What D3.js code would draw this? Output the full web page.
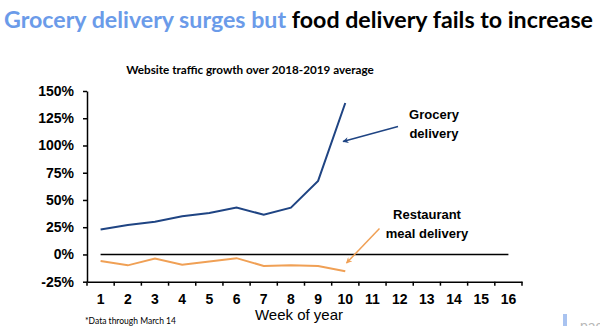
<!DOCTYPE html>
<html>
<head>
<meta charset="utf-8">
<script src="https://cdn.jsdelivr.net/npm/d3@7"></script>
<style>
  body { margin: 0; background: #fff; }
  svg { display: block; }
</style>
</head>
<body>
<div id="chart"></div>
<script>
// week numbers on the x axis
var weeks = [1, 2, 3, 4, 5, 6, 7, 8, 9, 10, 11, 12, 13, 14, 15, 16];
// traffic growth (%) over 2018-2019 average, data through week 10
var grocery = [23, 27, 30, 35, 38, 43, 36.5, 43, 67.5, 139];
var restaurant = [-6, -10, -3.7, -9.5, -6.4, -3.4, -10.5, -9.8, -10.5, -15.5];
var yTicks = [-25, 0, 25, 50, 75, 100, 125, 150];

var W = 600, H = 326;
var svg = d3.select("#chart").append("svg")
    .attr("width", W)
    .attr("height", H);

// title
var title = svg.append("text")
    .attr("x", 4)
    .attr("y", 28)
    .attr("textLength", 589)
    .attr("lengthAdjust", "spacingAndGlyphs")
    .style("font-family", "Lato, 'Open Sans', sans-serif")
    .style("font-weight", "bold")
    .style("font-size", "22px");
title.append("tspan").attr("fill", "#6b9be9").text("Grocery delivery surges but ");
title.append("tspan").attr("fill", "#000").text("food delivery fails to increase");

// subtitle
svg.append("text")
    .attr("x", 250)
    .attr("y", 74)
    .attr("text-anchor", "middle")
    .style("font-family", "Lato, sans-serif")
    .style("font-weight", "bold")
    .style("font-size", "11.7px")
    .text("Website traffic growth over 2018-2019 average");

// scales
var x = d3.scaleBand()
    .domain(weeks)
    .range([87, 522]);

var y = d3.scaleLinear()
    .domain([-25, 150])
    .range([281.7, 91]);

var labelFont = "'Liberation Sans', Arial, sans-serif";

// y axis
var yAxis = svg.append("g")
    .attr("transform", "translate(87,0)")
    .call(d3.axisLeft(y).tickValues(yTicks).tickSize(4).tickSizeOuter(0)
        .tickFormat(function (d) { return d + "%"; }));
yAxis.select(".domain").attr("stroke", "#000").attr("stroke-width", 1.5);
yAxis.selectAll(".tick line").attr("stroke", "#000").attr("stroke-width", 1.5);
yAxis.selectAll(".tick text")
    .attr("x", -13)
    .style("font-family", labelFont)
    .style("font-weight", "bold")
    .style("font-size", "14px")
    .attr("fill", "#000");

// x axis (ticks between weeks)
var xAxis = svg.append("g")
    .attr("transform", "translate(0," + y(-25) + ")")
    .call(d3.axisBottom(x).tickSize(0).tickSizeOuter(0));
xAxis.select(".domain").attr("stroke", "#000").attr("stroke-width", 1.5);
xAxis.selectAll(".tick text")
    .attr("y", 12)
    .style("font-family", labelFont)
    .style("font-weight", "bold")
    .style("font-size", "14px")
    .attr("fill", "#000");
xAxis.selectAll(".sep")
    .data(weeks.concat([17]))
    .enter().append("line")
    .attr("class", "sep")
    .attr("x1", function (d) { return d === 17 ? x(16) + x.bandwidth() : x(d); })
    .attr("x2", function (d) { return d === 17 ? x(16) + x.bandwidth() : x(d); })
    .attr("y1", 0)
    .attr("y2", 4)
    .attr("stroke", "#000")
    .attr("stroke-width", 1.5);

svg.append("text")
    .attr("x", 299)
    .attr("y", 320)
    .attr("text-anchor", "middle")
    .style("font-family", labelFont)
    .style("font-size", "15px")
    .text("Week of year");

// zero line
var cx = function (d, i) { return x(weeks[i]) + x.bandwidth() / 2; };
svg.append("line")
    .attr("x1", x(1) + x.bandwidth() / 2)
    .attr("x2", x(16) + x.bandwidth() / 2)
    .attr("y1", y(0))
    .attr("y2", y(0))
    .attr("stroke", "#000")
    .attr("stroke-width", 1.5);

var line = d3.line()
    .x(cx)
    .y(function (d) { return y(d); });

svg.append("path")
    .datum(grocery)
    .attr("d", line)
    .attr("fill", "none")
    .attr("stroke", "#1f4483")
    .attr("stroke-width", 2);

svg.append("path")
    .datum(restaurant)
    .attr("d", line)
    .attr("fill", "none")
    .attr("stroke", "#f0a055")
    .attr("stroke-width", 2);

// annotation arrows
var defs = svg.append("defs");
function marker(id, color) {
    defs.append("marker")
        .attr("id", id)
        .attr("viewBox", "0 0 10 10")
        .attr("refX", 9)
        .attr("refY", 5)
        .attr("markerWidth", 9)
        .attr("markerHeight", 6)
        .attr("markerUnits", "userSpaceOnUse")
        .attr("orient", "auto")
        .append("path")
        .attr("d", "M0,0L10,5L0,10L3,5Z")
        .attr("fill", color);
}
marker("arrBlue", "#1f4483");
marker("arrOrange", "#f0a055");

svg.append("line")
    .attr("x1", 398).attr("y1", 126.5)
    .attr("x2", 343).attr("y2", 141.5)
    .attr("stroke", "#1f4483")
    .attr("stroke-width", 1.5)
    .attr("marker-end", "url(#arrBlue)");

svg.append("line")
    .attr("x1", 379.5).attr("y1", 228.5)
    .attr("x2", 346.5).attr("y2", 263)
    .attr("stroke", "#f0a055")
    .attr("stroke-width", 1.5)
    .attr("marker-end", "url(#arrOrange)");

var notes = [
    { x: 434, y: 119, lines: ["Grocery", "delivery"] },
    { x: 427, y: 219, lines: ["Restaurant", "meal delivery"] }
];
notes.forEach(function (n) {
    var t = svg.append("text")
        .attr("text-anchor", "middle")
        .style("font-family", labelFont)
        .style("font-weight", "bold")
        .style("font-size", "13px");
    n.lines.forEach(function (s, i) {
        t.append("tspan").attr("x", n.x).attr("y", n.y + i * 18.5).text(s);
    });
});

// footnote
svg.append("text")
    .attr("x", 85)
    .attr("y", 324)
    .style("font-family", "Lato, sans-serif")
    .style("font-size", "8.5px")
    .text("*Data through March 14");

// cropped logo, bottom right
svg.append("rect")
    .attr("x", 563).attr("y", 314)
    .attr("width", 4).attr("height", 12)
    .attr("fill", "#a9c3f0");
svg.append("text")
    .attr("x", 580).attr("y", 331)
    .style("font-family", labelFont)
    .style("font-size", "14px")
    .attr("fill", "#b8b8b8")
    .text("pac");
</script>
</body>
</html>
